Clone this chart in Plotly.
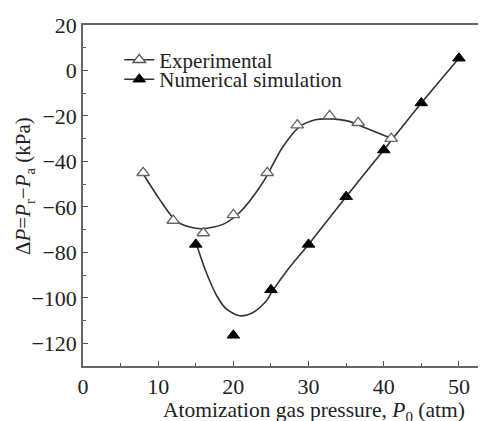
import plotly.graph_objects as go

# Experimental data (open triangles)
exp_x = [8, 12, 16, 20, 24.5, 28.5, 32.8, 36.6, 41]
exp_y = [-45, -66, -71.5, -63.5, -45, -24, -20, -23, -30]
# Experimental fitted curve
expfit_x = [8.1, 10.2, 12.4, 14.2, 15.9, 18.6, 20.8, 23.9, 26.5, 28.7, 30.9, 32.7, 35.4, 37.1, 40.9]
expfit_y = [-46, -56.8, -66.3, -68.9, -69.6, -67.7, -62.6, -49.4, -34, -25, -21.7, -21.3, -22.4, -24.6, -29.7]

# Numerical simulation data (filled triangles)
num_x = [15, 20, 25, 30, 35, 40, 45, 50]
num_y = [-76.5, -116.5, -96.5, -76.5, -55.5, -35, -14.3, 5.4]
# Numerical fitted curve
numfit_x = [15.2, 16.4, 17.8, 19.1, 20.85, 22.6, 24.4, 25.1, 27.5, 30, 35, 40, 45, 50]
numfit_y = [-77.5, -88.9, -99.2, -105, -107.9, -106.5, -101.3, -97.5, -86.5, -76.5, -55.5, -35, -14.3, 5.4]

x_title = "Atomization gas pressure, <i>P</i><sub>0</sub> (atm)"
y_title = "Δ<i>P</i>=<i>P</i><sub>r</sub>−<i>P</i><sub>a</sub> (kPa)"

font = "Liberation Serif, Times New Roman, serif"
lc = "#333333"

fig = go.Figure()
fig.add_trace(go.Scatter(x=expfit_x, y=expfit_y, mode="lines",
                         line=dict(color=lc, width=1.6, shape="spline", smoothing=0.8),
                         showlegend=False, hoverinfo="skip"))
fig.add_trace(go.Scatter(x=numfit_x, y=numfit_y, mode="lines",
                         line=dict(color=lc, width=1.6, shape="spline", smoothing=0.8),
                         showlegend=False, hoverinfo="skip"))
fig.add_trace(go.Scatter(x=exp_x, y=exp_y, mode="markers",
                         marker=dict(symbol="triangle-up", size=11, color="white", line=dict(color="#666666", width=1.3)),
                         showlegend=False))
fig.add_trace(go.Scatter(x=num_x, y=num_y, mode="markers",
                         marker=dict(symbol="triangle-up", size=11, color="black", line=dict(color="black", width=1)),
                         showlegend=False))
# legend entries
fig.add_trace(go.Scatter(x=[None], y=[None], mode="lines+markers", name="Experimental", legend="legend",
                         line=dict(color=lc, width=1.5),
                         marker=dict(symbol="triangle-up", size=11, color="white", line=dict(color="#555555", width=1.3))))
fig.add_trace(go.Scatter(x=[None], y=[None], mode="lines+markers", name="Numerical simulation", legend="legend2",
                         line=dict(color=lc, width=1.5),
                         marker=dict(symbol="triangle-up", size=11, color="black", line=dict(color="black", width=1))))

leg_common = dict(xanchor="left", yanchor="middle", bgcolor="rgba(0,0,0,0)",
                  font=dict(size=21, family=font, color="#222222"), itemwidth=30, borderwidth=0)

# the page body adds an 8 px offset, so the figure is 8 px smaller and margins compensate
fig.update_layout(
    width=478, height=413,
    margin=dict(l=75, r=0, t=17, b=55),
    paper_bgcolor="white", plot_bgcolor="white",
    font=dict(family=font, size=21, color="#222222"),
    showlegend=True,
    legend=dict(x=0.09, y=0.897, **leg_common),
    legend2=dict(x=0.09, y=0.84, **leg_common),
    xaxis=dict(range=[0, 53.6], tickvals=[0, 10, 20, 30, 40, 50], ticks="inside", ticklen=5,
               minor=dict(tickvals=[5, 15, 25, 35, 45], ticks="inside", ticklen=3, tickcolor="#555555"),
               tickcolor="#555555", showline=True, linecolor="#666666", linewidth=1.5, mirror=True,
               showgrid=False, zeroline=False, automargin=False,
               tickfont=dict(size=22)),
    yaxis=dict(range=[-130, 20], tickvals=[-120, -100, -80, -60, -40, -20, 0, 20],
               ticktext=["−120", "−100", "−80", "−60", "−40", "−20", "0", "20"],
               ticks="inside", ticklen=5,
               minor=dict(tickvals=[-110, -90, -70, -50, -30, -10, 10], ticks="inside", ticklen=3, tickcolor="#555555"),
               tickcolor="#555555", showline=True, linecolor="#666666", linewidth=1.5,
               showgrid=False, zeroline=False, automargin=False,
               tickfont=dict(size=22)),
    annotations=[
        dict(text=x_title, xref="paper", yref="paper", x=0.573, y=-0.134, xanchor="center", yanchor="middle",
             showarrow=False, font=dict(size=21.5, family=font, color="#222222")),
        dict(text=y_title, xref="paper", yref="paper", x=-0.146, y=0.528, xanchor="center", yanchor="middle",
             textangle=-90, showarrow=False, font=dict(size=21, family=font, color="#222222")),
    ],
)

fig.write_html("out.html")
